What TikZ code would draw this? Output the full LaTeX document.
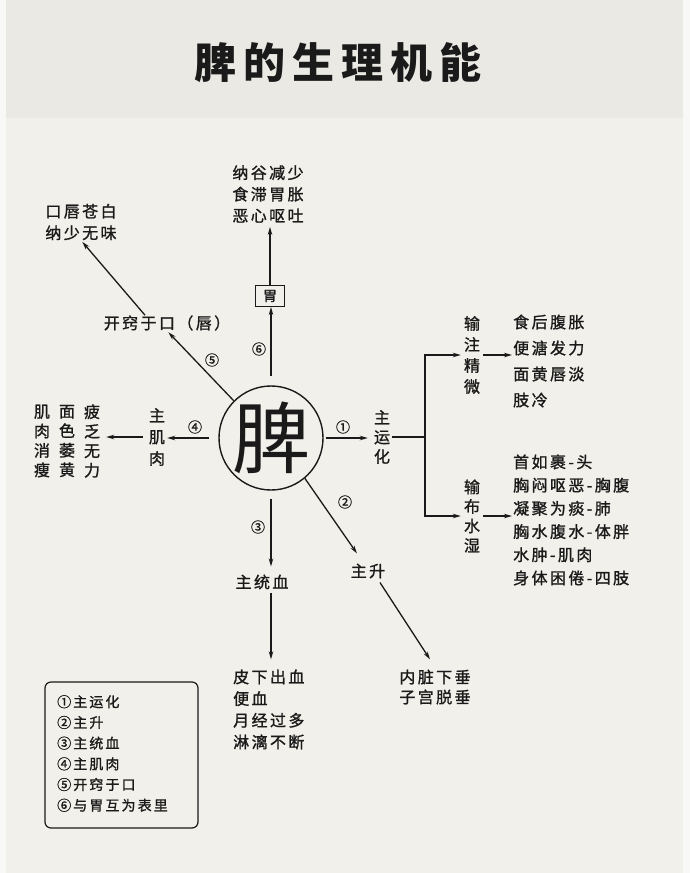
\documentclass[tikz,border=0pt]{standalone}
\usepackage{fontspec}
\usetikzlibrary{arrows.meta}
\newfontfamily\cjk[LetterSpace=15,FakeBold=1.2]{Noto Sans CJK SC}
\newfontfamily\cjkplain[FakeBold=1]{Noto Sans CJK SC}
\newfontfamily\cjkbig{Noto Sans CJK SC}
\newfontfamily\cjktitle[LetterSpace=17]{Noto Sans CJK SC}
\definecolor{paper}{HTML}{F2F0EA}
\definecolor{band}{HTML}{EAE9E4}
\definecolor{rim}{HTML}{F8F8F6}
\definecolor{ink}{HTML}{1A1A1A}
\begin{document}
\begin{tikzpicture}[x=1pt,y=-1pt,
  txt/.style={font=\cjk\fontsize{16}{21.5}\selectfont, inner sep=0pt, text=ink},
  num/.style={font=\cjkplain\fontsize{14}{14}\selectfont, inner sep=0pt, text=ink},
  arr/.style={draw=ink, line width=1.3pt, -{Stealth[length=8pt,width=4.5pt]}},
  plain/.style={draw=ink, line width=1.3pt},
]
% paper and page edges
\fill[paper] (0,0) rectangle (690,873);
\fill[band] (0,0) rectangle (690,118);
\fill[rim] (0,0) rectangle (6,873);
\fill[rim] (683,0) rectangle (690,873);
\useasboundingbox (0,0) rectangle (690,873);

% title
\node[font=\cjktitle\bfseries\fontsize{42}{42}\selectfont, text=ink, inner sep=0pt] (title) at (338,63) {脾的生理机能};

% centre
\node[draw=ink, line width=1.4pt, circle, minimum size=104pt, inner sep=0pt] (pi) at (271,438) {};
\node[font=\cjkbig\fontsize{78}{78}\selectfont, text=ink, inner sep=0pt] (pichar) at (pi) {脾};

% upward branch: stomach
\node[txt, font=\cjk\fontsize{14}{14}\selectfont, draw=ink, line width=1pt, minimum width=29pt, minimum height=21pt] (wei) at (270,296) {胃};
\node[txt, align=center] (top) at (268,194) {纳谷减少\\食滞胃胀\\恶心呕吐};

% upper left branch: mouth
\node[txt] (kq) at (167,323) {开窍于口（唇）};
\node[txt, align=left] (ul) at (81,222) {口唇苍白\\纳少无味};

% left branch: muscles
\node[txt, align=center] (zjr) at (157,437) {主\\肌\\肉};
\node[txt, align=center, font=\cjk\fontsize{16}{19.5}\selectfont] (c1) at (92,441) {疲\\乏\\无\\力};
\node[txt, align=center, font=\cjk\fontsize{16}{19.5}\selectfont] (c2) at (67,441) {面\\色\\萎\\黄};
\node[txt, align=center, font=\cjk\fontsize{16}{19.5}\selectfont] (c3) at (42,441) {肌\\肉\\消\\瘦};

% right branch: transport and transformation
\node[txt, align=center, font=\cjk\fontsize{16}{19.5}\selectfont] (zyh) at (382,437) {主\\运\\化};
\node[txt, align=center, font=\cjk\fontsize{16}{21}\selectfont] (szjw) at (472,355) {输\\注\\精\\微};
\node[txt, align=center, font=\cjk\fontsize{16}{19.5}\selectfont] (sbss) at (472,516) {输\\布\\水\\湿};
\node[txt, align=left, anchor=west, font=\cjk\fontsize{16}{26}\selectfont] (list1) at (513,361) {食后腹胀\\便溏发力\\面黄唇淡\\肢冷};
\node[txt, align=left, anchor=west, font=\cjk\fontsize{16}{23.2}\selectfont] (list2) at (513,520) {首如裹-头\\胸闷呕恶-胸腹\\凝聚为痰-肺\\胸水腹水-体胖\\水肿-肌肉\\身体困倦-四肢};

% lower right branch: ascending
\node[txt] (zs) at (368,571) {主升};
\node[txt, align=left, font=\cjk\fontsize{16}{20}\selectfont] (nz) at (435,687) {内脏下垂\\子宫脱垂};

% downward branch: blood
\node[txt] (zt) at (262,582) {主统血};
\node[txt, align=left, anchor=west, font=\cjk\fontsize{16}{21.7}\selectfont] (bl) at (233,709.5) {皮下出血\\便血\\月经过多\\淋漓不断};

% numbers on the spokes
\node[num] (n6) at (259,349) {⑥};
\node[num] (n5) at (212,360) {⑤};
\node[num] (n4) at (195,427) {④};
\node[num] (n1) at (343,427) {①};
\node[num] (n2) at (345,502) {②};
\node[num] (n3) at (258,527) {③};

% connectors
\draw[arr, shorten <=9pt] (pi.north) -- (pi.north |- wei.south);
\draw[arr, shorten >=4pt] (wei.north) -- (wei.north |- top.south);
\draw[arr, shorten >=2pt] (pi.135) -- (kq.south);
\draw[arr, shorten >=2pt] ([xshift=-22pt]kq.north) -- (ul.south);
\draw[arr, shorten <=9pt, shorten >=2pt] (pi.west) -- (pi.west -| zjr.east);
\draw[arr, shorten <=6pt, shorten >=6pt] (zjr.west) -- (zjr.west -| c1.east);
\draw[arr, shorten <=2pt, shorten >=6pt] (pi.east) -- (pi.east -| zyh.west);
\coordinate (br) at (425,437);
\draw[plain, shorten <=2pt] (zyh.east) -- (br);
\draw[arr, shorten >=3pt] (br) |- (szjw.west);
\draw[arr, shorten >=3pt] (br) |- (sbss.west);
\draw[arr, shorten <=3pt, shorten >=1pt] (szjw.east) -- (szjw.east -| list1.west);
\draw[arr, shorten <=3pt, shorten >=1pt] (sbss.east) -- (sbss.east -| list2.west);
\draw[arr] (pi.-50) -- ([xshift=-11pt,yshift=10pt]zs.north);
\draw[arr] ([xshift=12pt,yshift=-4pt]zs.south) -- ([xshift=-5pt,yshift=10pt]nz.north);
\draw[arr, shorten <=8pt, shorten >=8pt] (pi.south) -- (pi.south |- zt.north);
\draw[arr, shorten <=3pt, shorten >=10pt] (pi.south |- zt.south) -- (pi.south |- bl.north);

% legend
\node[draw=ink, line width=1.2pt, rounded corners=6pt, minimum width=153pt, minimum height=146pt, inner sep=0pt] (legend) at (121.5,755) {};
\node[txt, align=left, anchor=west, font=\cjk\fontsize{14}{20.7}\selectfont] (legtxt) at (57,753.5) {①主运化\\②主升\\③主统血\\④主肌肉\\⑤开窍于口\\⑥与胃互为表里};
\end{tikzpicture}
\end{document}
